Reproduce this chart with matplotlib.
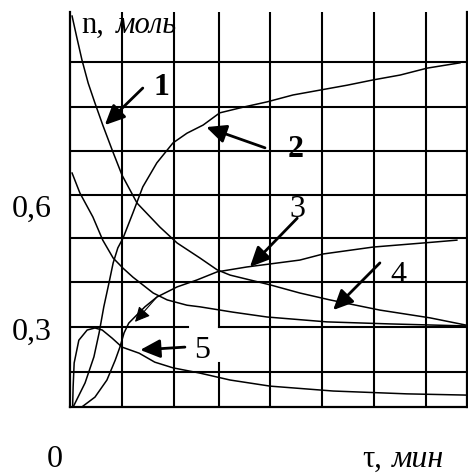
import matplotlib.pyplot as plt

plt.rcParams['font.family'] = ['Liberation Serif', 'DejaVu Serif']

# curves: time (grid units) and n, mol
t1 = [0.04, 0.13, 0.23, 0.35, 0.48, 0.63, 0.81, 1.0, 1.29, 1.73, 2.06, 2.5, 2.83, 3.08, 3.85, 4.42, 5.0, 5.96, 6.92, 7.62]
n1 = [1.072, 1.020, 0.964, 0.907, 0.858, 0.804, 0.743, 0.681, 0.612, 0.553, 0.514, 0.477, 0.448, 0.435, 0.411, 0.391, 0.374, 0.349, 0.330, 0.312]

t2 = [0.05, 0.29, 0.46, 0.56, 0.65, 0.75, 0.83, 0.92, 1.02, 1.21, 1.40, 1.67, 1.98, 2.25, 2.56, 2.88, 3.33, 3.79, 4.29, 4.81, 5.33, 5.83, 6.35, 6.87, 7.5]
n2 = [0.108, 0.170, 0.234, 0.293, 0.357, 0.416, 0.465, 0.502, 0.526, 0.588, 0.652, 0.711, 0.760, 0.784, 0.804, 0.834, 0.848, 0.861, 0.878, 0.890, 0.902, 0.915, 0.927, 0.944, 0.957]

t3 = [0.05, 0.23, 0.48, 0.71, 0.87, 0.96, 1.04, 1.13, 1.44, 1.67, 2.06, 2.44, 2.83, 3.40, 4.42, 4.87, 5.83, 6.98, 7.44]
n3 = [0.108, 0.111, 0.135, 0.177, 0.226, 0.258, 0.293, 0.317, 0.357, 0.381, 0.406, 0.423, 0.443, 0.455, 0.472, 0.487, 0.504, 0.516, 0.521]

t4 = [0.04, 0.19, 0.44, 0.63, 0.83, 1.02, 1.21, 1.40, 1.60, 1.87, 2.25, 2.5, 3.13, 3.79, 4.94, 6.15, 7.62]
n4 = [0.686, 0.637, 0.578, 0.521, 0.477, 0.452, 0.430, 0.411, 0.391, 0.374, 0.361, 0.357, 0.344, 0.332, 0.320, 0.315, 0.310]

t5 = [0.05, 0.06, 0.08, 0.17, 0.33, 0.48, 0.62, 0.81, 1.0, 1.33, 1.63, 1.98, 2.5, 3.08, 3.85, 5.06, 6.48, 7.62]
n5 = [0.108, 0.160, 0.219, 0.275, 0.300, 0.305, 0.300, 0.280, 0.258, 0.243, 0.221, 0.207, 0.194, 0.177, 0.162, 0.150, 0.143, 0.140]

# curve labels: text, label position, arrow tail, arrow tip
labels = ['1', '2', '3', '4', '5']
label_pos = [(1.75, 0.878), (4.33, 0.725), (4.38, 0.578), (6.31, 0.416), (2.54, 0.231)]
arrow_tail = [(1.40, 0.895), (3.75, 0.748), (4.37, 0.575), (5.96, 0.465), (2.21, 0.258)]
arrow_tip = [(0.67, 0.804), (2.62, 0.799), (3.46, 0.455), (5.06, 0.349), (1.35, 0.251)]
bold = [True, True, False, False, False]

# hand drawn grid
grid_t = [1.0, 2.0, 2.865, 3.846, 4.846, 5.846, 6.846]
grid_n = [0.959, 0.848, 0.740, 0.632, 0.526, 0.418, 0.307, 0.197]

t_max = 7.635
n_min, n_max = 0.1107, 1.082

fig = plt.figure(figsize=(4.68, 4.75), dpi=100)
ax = fig.add_axes([70 / 468, 1 - 407 / 475, 397 / 468, 395 / 475])
ax.set_xlim(0, t_max)
ax.set_ylim(n_min, n_max)
ax.set_xticks([])
ax.set_yticks([])
ax.spines['top'].set_visible(False)
for s in ['left', 'bottom', 'right']:
    ax.spines[s].set_linewidth(1.6)

#grid, with the gap around label 5
for t in grid_t:
    if t == 2.865:
        ax.plot([t, t], [n_min, 0.219], color='black', lw=1.5)
        ax.plot([t, t], [0.307, n_max], color='black', lw=1.5)
    else:
        ax.plot([t, t], [n_min, n_max], color='black', lw=1.5)
for n in grid_n:
    if n == 0.307:
        ax.plot([0, 2.27], [n, n], color='black', lw=1.5)
        ax.plot([2.865, t_max], [n, n], color='black', lw=1.5)
    else:
        ax.plot([0, t_max], [n, n], color='black', lw=1.5)

#curves
for t, n in [(t1, n1), (t2, n2), (t3, n3), (t4, n4), (t5, n5)]:
    ax.plot(t, n, color='black', lw=1.1)

# small triangle on curve 3
ax.annotate('', xy=(1.25, 0.320), xytext=(1.67, 0.381),
            arrowprops=dict(arrowstyle='-|>,head_length=0.5,head_width=0.25',
                            mutation_scale=18, color='black', lw=0.8,
                            shrinkA=0, shrinkB=0))

#labels with arrows
for lab, p, a, b, bb in zip(labels, label_pos, arrow_tail, arrow_tip, bold):
    ax.annotate('', xy=b, xytext=a,
                arrowprops=dict(arrowstyle='-|>,head_length=0.6,head_width=0.28',
                                mutation_scale=20, color='black', lw=2.0,
                                shrinkA=0, shrinkB=0))
    ax.text(p[0], p[1], lab, ha='center', va='baseline', fontsize=23,
            fontweight='bold' if bb else 'normal', clip_on=False)

#axis texts
ax.text(0.21, 1.030, 'n,', fontsize=22, ha='left', va='baseline', clip_on=False)
ax.text(0.88, 1.030, 'моль', fontsize=22, style='italic', ha='left', va='baseline', clip_on=False)
ax.text(5.62, -0.036, 'τ,', fontsize=22, ha='left', va='baseline', clip_on=False)
ax.text(6.19, -0.036, 'мин', fontsize=23, style='italic', ha='left', va='baseline', clip_on=False)
ax.text(-0.29, -0.036, '0', fontsize=23, ha='center', va='baseline', clip_on=False)
ax.text(-0.73, 0.578, '0,6', fontsize=23, ha='center', va='baseline', clip_on=False)
ax.text(-0.73, 0.275, '0,3', fontsize=23, ha='center', va='baseline', clip_on=False)

plt.savefig('out.png', dpi=100)
